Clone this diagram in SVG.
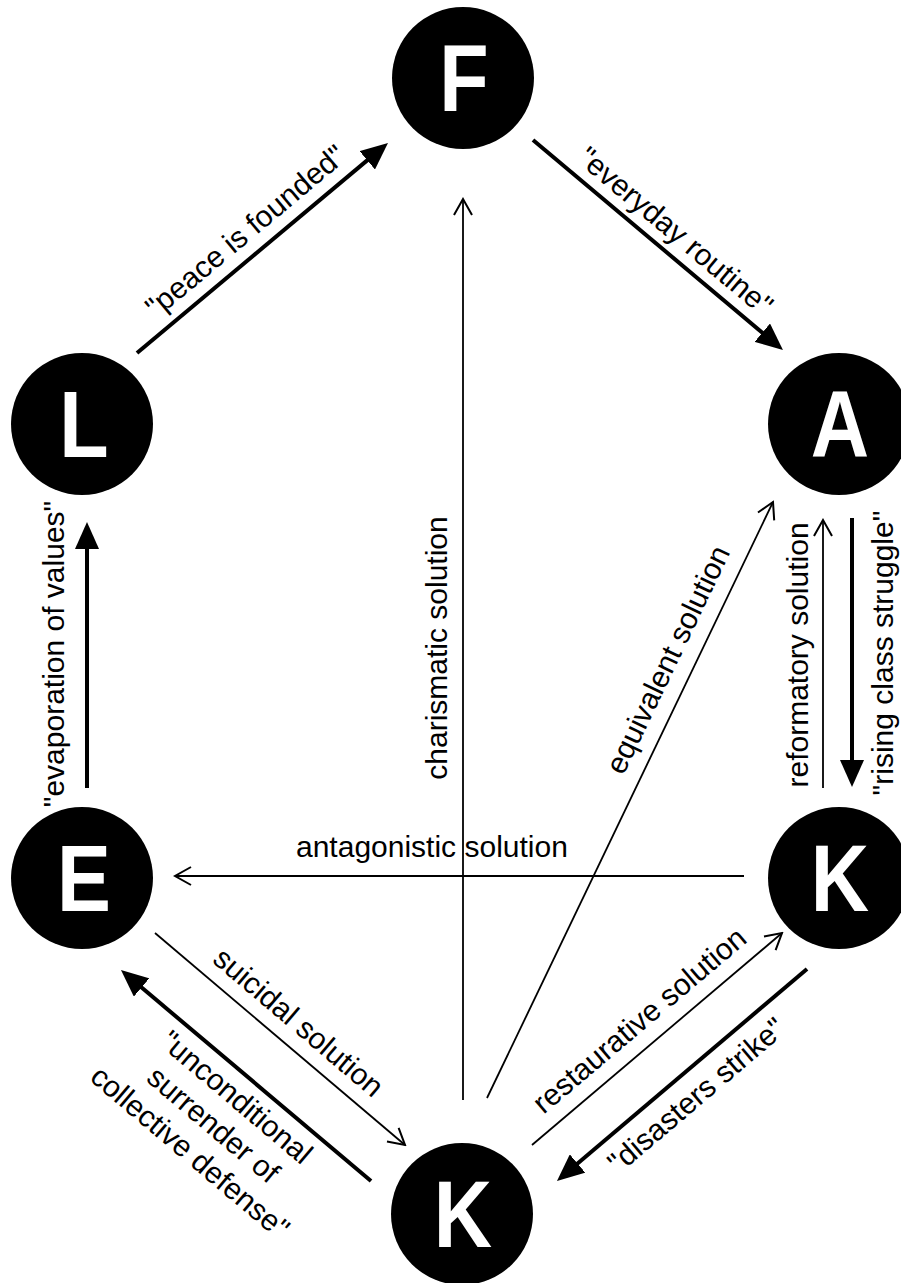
<svg xmlns="http://www.w3.org/2000/svg" width="901" height="1283" viewBox="0 0 901 1283">
<style>
.lbl{font-family:"Liberation Sans",Arial,Helvetica,sans-serif;font-size:30px;fill:#000}
.mid{text-anchor:middle}
.nl{font-family:"Liberation Sans",Arial,Helvetica,sans-serif;font-weight:bold;font-size:94px;fill:#fff;text-anchor:middle}
.node{fill:#000}
.thick{stroke:#000;stroke-width:4;fill:none;marker-end:url(#hf)}
.thin{stroke:#000;stroke-width:1.8;fill:none;marker-end:url(#ho)}
</style>
<defs>
<marker id="hf" viewBox="0 0 27 24" refX="17" refY="12" markerWidth="27" markerHeight="24" markerUnits="userSpaceOnUse" orient="auto"><path d="M0,0 L27,12 L0,24 z" fill="#000"/></marker>
<marker id="ho" viewBox="-2 -2 20 22" refX="16" refY="9" markerWidth="20" markerHeight="22" markerUnits="userSpaceOnUse" orient="auto"><path d="M0,0 L16,9 L0,18" fill="none" stroke="#000" stroke-width="2"/></marker>
</defs>
<rect width="901" height="1283" fill="#fff"/>
<g id="connectors">
<line class="thick" x1="137" y1="353" x2="380.3" y2="149.4"/>
<line class="thick" x1="533" y1="140" x2="775.3" y2="343.6"/>
<line class="thick" x1="87" y1="788" x2="87" y2="532"/>
<line class="thick" x1="852" y1="518" x2="852" y2="777"/>
<line class="thick" x1="371" y1="1181" x2="128.6" y2="976.5"/>
<line class="thick" x1="807" y1="969" x2="564.6" y2="1174.5"/>
<line class="thin" x1="463" y1="1100" x2="463" y2="199"/>
<line class="thin" x1="487" y1="1098" x2="773" y2="502"/>
<line class="thin" x1="823" y1="788" x2="823" y2="520"/>
<line class="thin" x1="744" y1="876" x2="175" y2="876"/>
<line class="thin" x1="155" y1="933" x2="405" y2="1145"/>
<line class="thin" x1="532" y1="1145" x2="782" y2="933"/>
</g>
<g id="labels">
<text class="lbl mid" transform="translate(252,239) rotate(-39.9)">"peace is founded"</text>
<text class="lbl mid" transform="translate(669,239) rotate(40)">"everyday routine"</text>
<text class="lbl mid" transform="translate(64,654) rotate(-90)">"evaporation of values"</text>
<text class="lbl mid" transform="translate(447,648) rotate(-90)">charismatic solution</text>
<text class="lbl mid" transform="translate(808,655) rotate(-90)">reformatory solution</text>
<text class="lbl mid" transform="translate(893,653) rotate(-90)">"rising class struggle"</text>
<text class="lbl" x="296" y="857">antagonistic solution</text>
<text class="lbl mid" transform="translate(677,664) rotate(-64.4)">equivalent solution</text>
<text class="lbl mid" transform="translate(292,1030) rotate(40.3)">suicidal solution</text>
<text class="lbl mid" transform="translate(646,1028) rotate(-40.3)">restaurative solution</text>
<text class="lbl mid" transform="translate(703,1103) rotate(-40.3)">"disasters strike"</text>
<text class="lbl mid" transform="translate(230,1105) rotate(40.2)"><tspan x="0" y="0">"unconditional</tspan><tspan x="0" y="36">surrender of</tspan><tspan x="0" y="72">collective defense"</tspan></text>
</g>
<g id="node-F"><circle class="node" cx="463" cy="78" r="71"/><text class="nl" transform="translate(464,111) scale(0.86,1)">F</text></g>
<g id="node-L"><circle class="node" cx="82" cy="424" r="71"/><text class="nl" transform="translate(84,457) scale(0.86,1)">L</text></g>
<g id="node-A"><circle class="node" cx="839" cy="424" r="71"/><text class="nl" transform="translate(840,457) scale(0.86,1)">A</text></g>
<g id="node-E"><circle class="node" cx="82" cy="878" r="71"/><text class="nl" transform="translate(84,911) scale(0.86,1)">E</text></g>
<g id="node-K1"><circle class="node" cx="839" cy="878" r="71"/><text class="nl" transform="translate(840,911) scale(0.86,1)">K</text></g>
<g id="node-K2"><circle class="node" cx="462" cy="1214" r="71"/><text class="nl" transform="translate(463,1247) scale(0.86,1)">K</text></g>
</svg>
